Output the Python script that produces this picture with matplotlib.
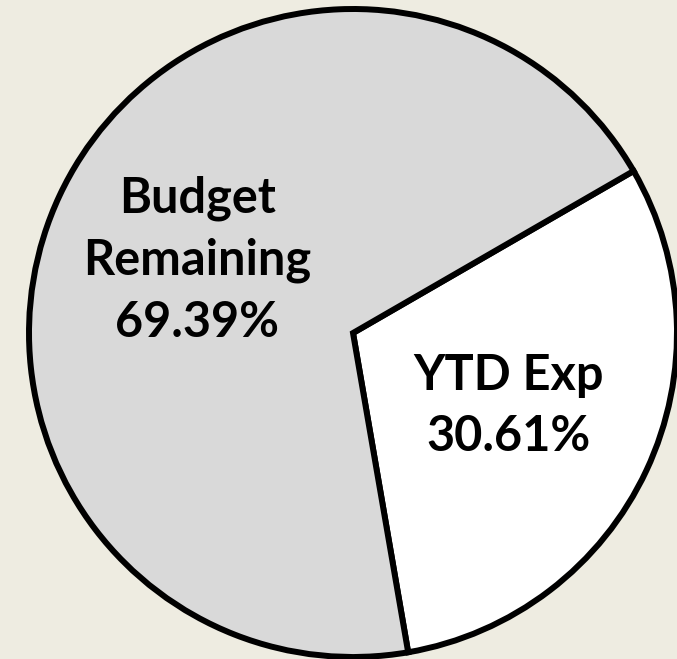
import matplotlib
matplotlib.use("Agg")
import matplotlib.pyplot as plt

categories = ["YTD Exp", "Budget Remaining"]
values = [30.61, 69.39]
label_names = ["YTD Exp", "Budget\nRemaining"]
colors = ["#FFFFFF", "#D9D9D9"]

plt.rcParams['font.family'] = ['Lato', 'DejaVu Sans']

fig = plt.figure(figsize=(6.77, 6.59), dpi=100, facecolor="#EEECE1")
ax = fig.add_axes([0, 0, 1, 1])
ax.set_facecolor("#EEECE1")

labels = [f"{n}\n{v:.2f}%" for n, v in zip(label_names, values)]
wedges, texts = ax.pie(
    values, labels=labels, colors=colors, startangle=30, counterclock=False,
    labeldistance=0.53, radius=1.0,
    wedgeprops=dict(edgecolor="black", linewidth=4.3, joinstyle="miter"),
    textprops=dict(fontsize=35, fontweight="bold", color="black",
                   ha="center", va="center", multialignment="center",
                   linespacing=1.45),
)
ax.set_aspect("auto")
ax.set_xlim(-353 / 324, (677 - 353) / 324)
ax.set_ylim((333 - 659) / 324, 333 / 324)
ax.axis("off")

fig.savefig("out.png", dpi=100, facecolor=fig.get_facecolor())
